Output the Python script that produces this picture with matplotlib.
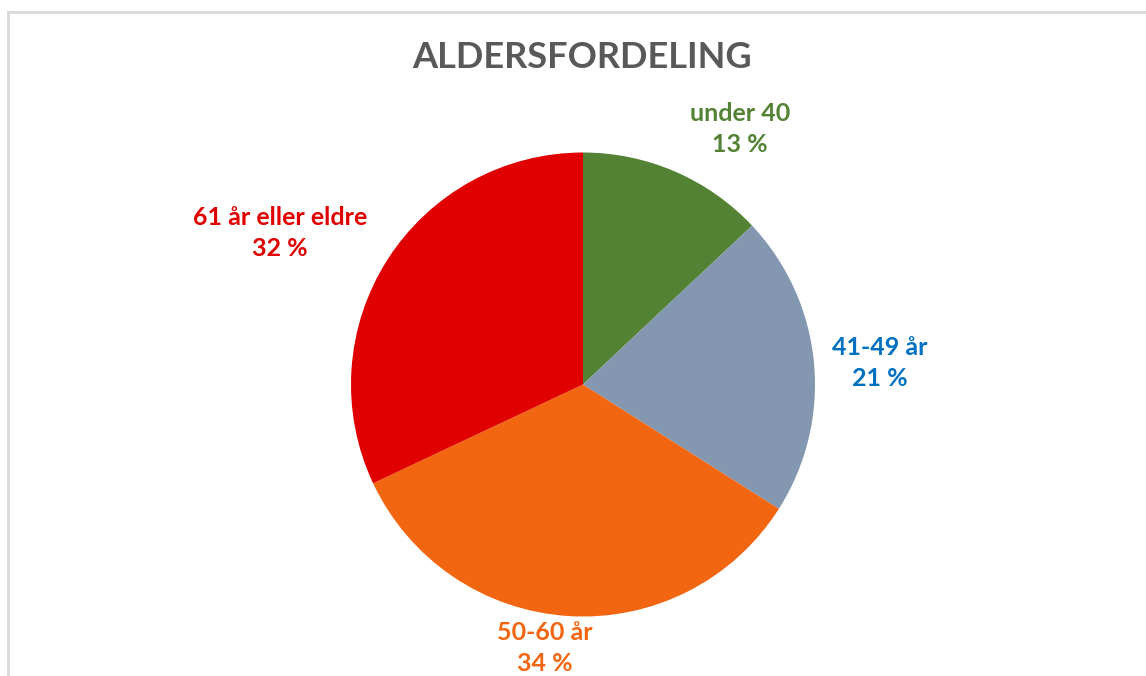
import matplotlib
matplotlib.use('agg')
import matplotlib.pyplot as plt
from matplotlib.lines import Line2D

# data
categories = ['under 40', '41-49 år', '50-60 år', '61 år eller eldre']
shares = [13, 21, 34, 32]
slice_colors = ['#548235', '#8497B0', '#F26611', '#E00000']
label_colors = ['#548235', '#0070C0', '#F26611', '#E00000']

W, H = 1146, 676
fig = plt.figure(figsize=(W / 100, H / 100), dpi=100)
ax = fig.add_axes([0, 0, 1, 1])

plt.rcParams['font.family'] = ['Lato', 'DejaVu Sans']

cx, cy, r = 583, H - 384.5, 232
ax.pie(shares, colors=slice_colors, startangle=90, counterclock=False,
       center=(cx, cy), radius=r, frame=True,
       wedgeprops={'linewidth': 0})
ax.set_xlim(0, W)
ax.set_ylim(0, H)
ax.set_aspect('equal')
ax.axis('off')

# chart border (cropped at right/bottom)
ax.add_line(Line2D([7.5, 7.5], [0, H - 11.5], color='#d9d9d9', lw=2))
ax.add_line(Line2D([7.5, W], [H - 11.5, H - 11.5], color='#d9d9d9', lw=2))

ax.text(582, H - 58, 'ALDERSFORDELING', ha='center', va='center',
        fontsize=26, fontweight='bold', color='#595959')

# label anchor points (pixels from top-left)
label_pos = [(740, 129), (880, 363), (545, 648), (280, 233)]
for name, val, col, (x, y) in zip(categories, shares, label_colors, label_pos):
    ax.text(x, H - y, f'{name}\n{val} %', ha='center', va='center',
            fontsize=18, fontweight='bold', color=col, linespacing=1.4)

fig.savefig('out.png', dpi=100)
